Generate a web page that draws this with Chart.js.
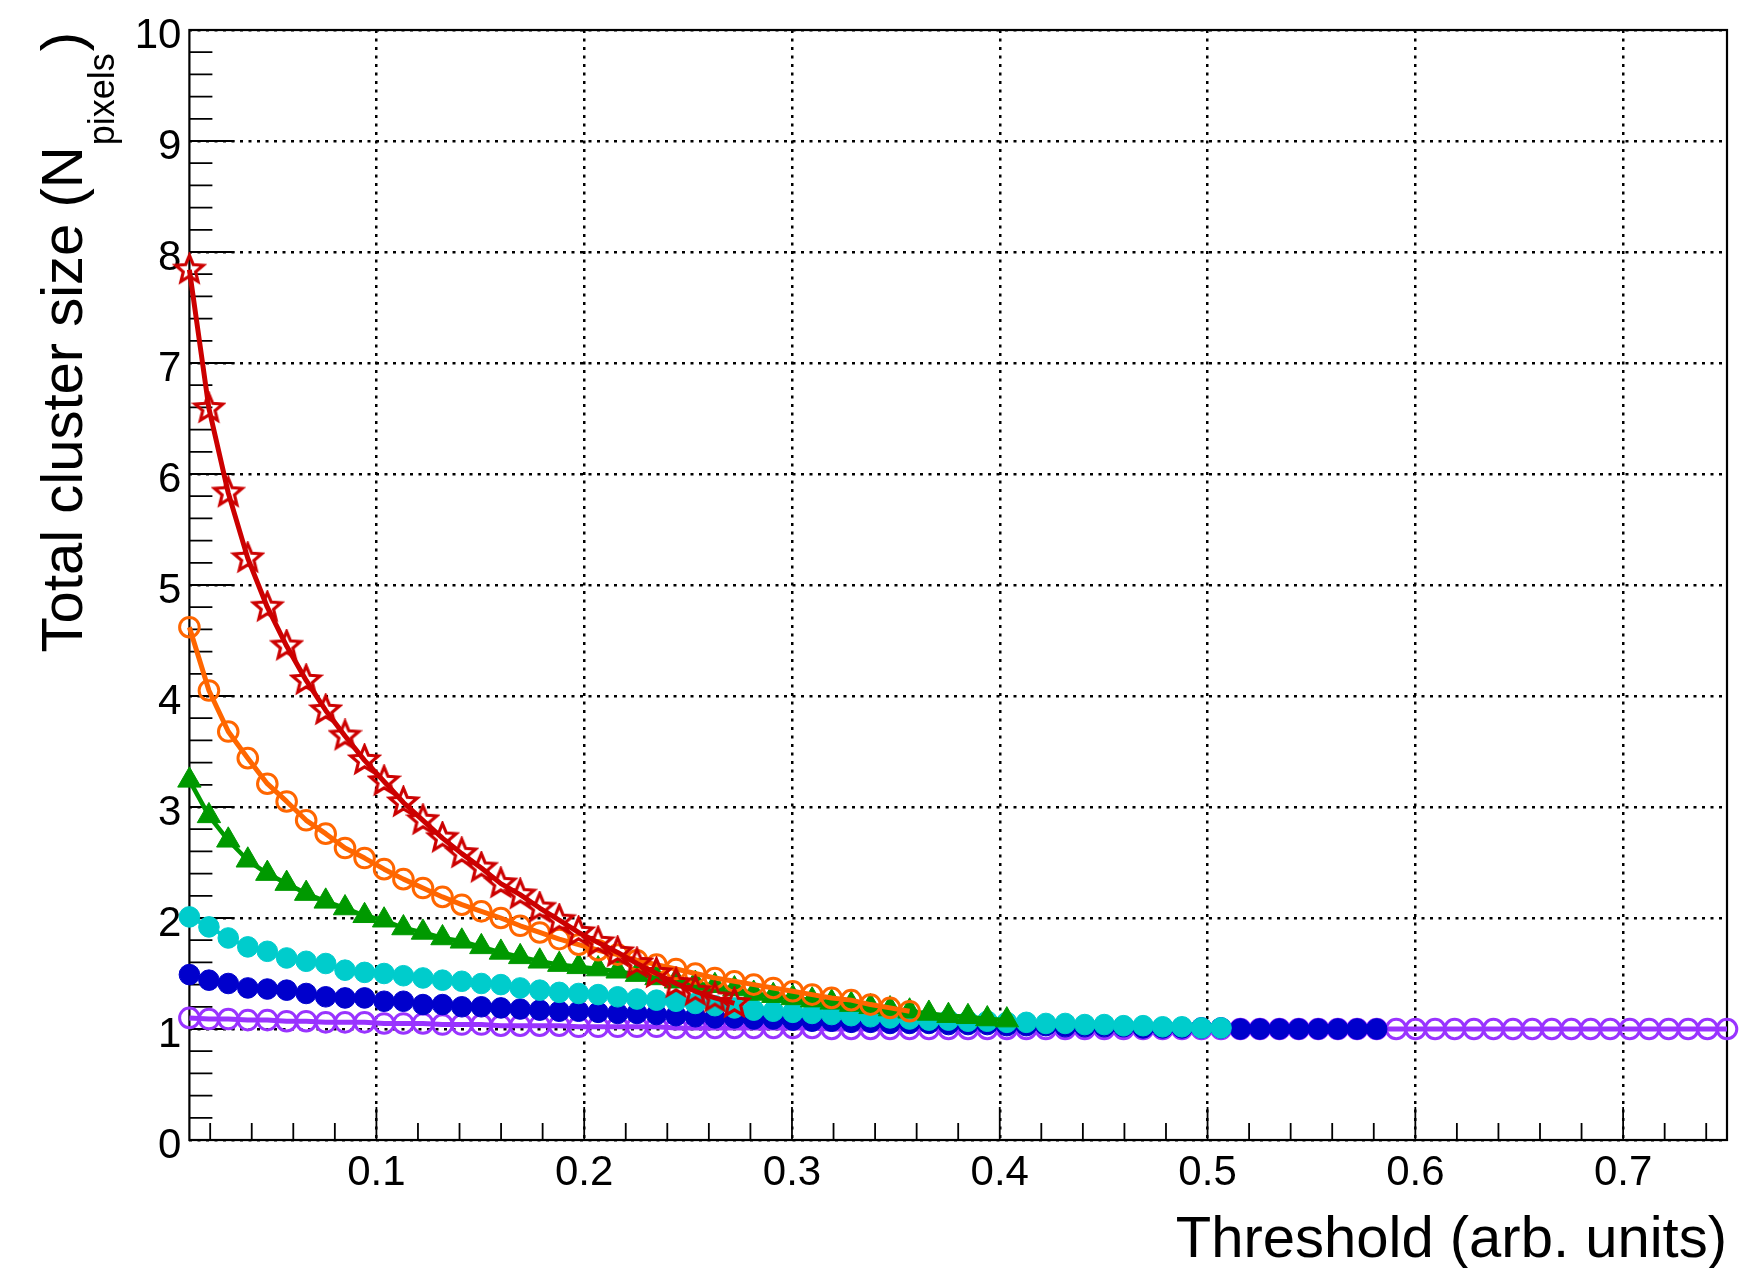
<!DOCTYPE html>
<html>
<head>
<meta charset="utf-8">
<title>Total cluster size vs threshold</title>
<script src="https://cdn.jsdelivr.net/npm/chart.js@4.4.1/dist/chart.umd.min.js"></script>
<style>
  html, body { margin: 0; padding: 0; background: #fff; }
  #wrap { width: 1747px; height: 1268px; }
</style>
</head>
<body>
<div id="wrap"><canvas id="clusterChart" width="1747" height="1268"></canvas></div>
<script>
// Threshold scan points (arb. units)
const thresholds = [
  0.0100, 0.0194, 0.0287, 0.0381, 0.0475, 0.0568, 0.0662, 0.0756, 0.0849, 0.0943,
  0.1037, 0.1130, 0.1224, 0.1318, 0.1411, 0.1505, 0.1599, 0.1692, 0.1786, 0.1880,
  0.1973, 0.2067, 0.2161, 0.2254, 0.2348, 0.2442, 0.2535, 0.2629, 0.2723, 0.2816,
  0.2910, 0.3004, 0.3097, 0.3191, 0.3285, 0.3378, 0.3472, 0.3566, 0.3659, 0.3753,
  0.3847, 0.3940, 0.4034, 0.4128, 0.4222, 0.4315, 0.4409, 0.4503, 0.4596, 0.4690,
  0.4784, 0.4877, 0.4971, 0.5065, 0.5158, 0.5252, 0.5346, 0.5439, 0.5533, 0.5627,
  0.5720, 0.5814, 0.5908, 0.6001, 0.6095, 0.6189, 0.6282, 0.6376, 0.6470, 0.6563,
  0.6657, 0.6751, 0.6844, 0.6938, 0.7032, 0.7125, 0.7219, 0.7313, 0.7406, 0.7500
];

// Total cluster size per curve, one value per threshold point
const sizeRed = [
  7.84, 6.59, 5.83, 5.24, 4.80, 4.45, 4.14, 3.87, 3.64, 3.42,
  3.23, 3.04, 2.88, 2.72, 2.58, 2.45, 2.31, 2.21, 2.09, 1.98,
  1.87, 1.78, 1.69, 1.59, 1.50, 1.41, 1.34, 1.28, 1.23
];
const sizeOrange = [
  4.62, 4.05, 3.68, 3.44, 3.21, 3.05, 2.88, 2.76, 2.63, 2.54,
  2.44, 2.35, 2.27, 2.19, 2.12, 2.06, 2.00, 1.93, 1.87, 1.81,
  1.76, 1.71, 1.67, 1.62, 1.58, 1.54, 1.50, 1.46, 1.43, 1.40,
  1.37, 1.34, 1.31, 1.28, 1.26, 1.22, 1.19, 1.16
];
const sizeGreen = [
  3.24, 2.92, 2.70, 2.52, 2.40, 2.31, 2.22, 2.15, 2.09, 2.02,
  1.98, 1.91, 1.87, 1.82, 1.79, 1.74, 1.69, 1.65, 1.61, 1.58,
  1.56, 1.54, 1.52, 1.49, 1.46, 1.43, 1.41, 1.39, 1.36, 1.32,
  1.30, 1.28, 1.26, 1.24, 1.22, 1.20, 1.18, 1.16, 1.14, 1.12,
  1.11, 1.09, 1.08
];
const sizeCyan = [
  2.01, 1.92, 1.82, 1.74, 1.70, 1.64, 1.61, 1.59, 1.53, 1.51,
  1.50, 1.48, 1.46, 1.44, 1.43, 1.41, 1.40, 1.37, 1.35, 1.33,
  1.32, 1.31, 1.29, 1.27, 1.26, 1.25, 1.23, 1.21, 1.19, 1.17,
  1.16, 1.15, 1.14, 1.13, 1.12, 1.11, 1.10, 1.09, 1.08, 1.08,
  1.07, 1.07, 1.06, 1.06, 1.05, 1.05, 1.04, 1.04, 1.03, 1.03,
  1.02, 1.02, 1.01, 1.01
];
const sizeBlue = [
  1.49, 1.44, 1.41, 1.37, 1.36, 1.35, 1.32, 1.29, 1.28, 1.28,
  1.25, 1.25, 1.22, 1.22, 1.20, 1.20, 1.19, 1.18, 1.17, 1.16,
  1.16, 1.15, 1.14, 1.14, 1.13, 1.12, 1.11, 1.10, 1.10, 1.09,
  1.09, 1.08, 1.07, 1.07, 1.06, 1.06, 1.05, 1.05, 1.05, 1.04,
  1.04, 1.04, 1.03, 1.03, 1.03, 1.02, 1.02, 1.02, 1.02, 1.01,
  1.01, 1.01, 1.01, 1.01, 1.00, 1.00, 1.00, 1.00, 1.00, 1.00,
  1.00, 1.00
];
const sizeViolet = [
  1.10, 1.09, 1.09, 1.08, 1.08, 1.07, 1.07, 1.06, 1.06, 1.06,
  1.05, 1.05, 1.05, 1.04, 1.04, 1.04, 1.03, 1.03, 1.03, 1.03,
  1.02, 1.02, 1.02, 1.02, 1.02, 1.01, 1.01, 1.01, 1.01, 1.01,
  1.01, 1.01, 1.01, 1.00, 1.00, 1.00, 1.00, 1.00, 1.00, 1.00,
  1.00, 1.00, 1.00, 1.00, 1.00, 1.00, 1.00, 1.00, 1.00, 1.00,
  1.00, 1.00, 1.00, 1.00, 1.00, 1.00, 1.00, 1.00, 1.00, 1.00,
  1.00, 1.00, 1.00, 1.00, 1.00, 1.00, 1.00, 1.00, 1.00, 1.00,
  1.00, 1.00, 1.00, 1.00, 1.00, 1.00, 1.00, 1.00, 1.00, 1.00
];

// Axis labels
const xTickValues = [0.1, 0.2, 0.3, 0.4, 0.5, 0.6, 0.7];
const yTickValues = [0, 1, 2, 3, 4, 5, 6, 7, 8, 9, 10];
const xTitle = 'Threshold (arb. units)';
const yTitle = ['Total cluster size (N', 'pixels', ')'];

document.addEventListener('DOMContentLoaded', () => {
    const FONT = "'Liberation Sans', Arial, Helvetica, sans-serif";

    const toPoints = values => values.map((v, i) => ({ x: thresholds[i], y: v }));

    // open five-point star marker
    function starMarker(color, outer, inner) {
        const size = Math.ceil(outer * 2 + 6);
        const c = document.createElement('canvas');
        c.width = c.height = size;
        const g = c.getContext('2d');
        g.translate(size / 2, size / 2);
        g.beginPath();
        for (let k = 0; k < 10; k++) {
            const r = k % 2 === 0 ? outer : inner;
            const ang = -Math.PI / 2 + k * Math.PI / 5;
            g.lineTo(r * Math.cos(ang), r * Math.sin(ang));
        }
        g.closePath();
        g.strokeStyle = color;
        g.lineWidth = 3.2;
        g.stroke();
        return c;
    }

    // frame, ticks, tick labels and axis titles
    const frameAxes = {
        id: 'frameAxes',
        beforeDatasetsDraw(chart) {
            const { ctx, chartArea: a, scales: { x, y } } = chart;
            ctx.save();
            ctx.strokeStyle = '#000';
            ctx.lineWidth = 1.8;
            ctx.beginPath();
            for (let k = 0; k <= 50; k++) {
                const py = y.getPixelForValue(k * 0.2);
                const len = k % 5 === 0 ? 45 : 23;
                ctx.moveTo(a.left, py);
                ctx.lineTo(a.left + len, py);
            }
            for (let k = 1; k <= 37; k++) {
                const px = x.getPixelForValue(k * 0.02);
                const len = k % 5 === 0 ? 33 : 17;
                ctx.moveTo(px, a.bottom);
                ctx.lineTo(px, a.bottom - len);
            }
            ctx.stroke();

            ctx.lineWidth = 2.2;
            ctx.strokeRect(a.left, a.top, a.right - a.left, a.bottom - a.top);

            ctx.fillStyle = '#000';
            ctx.font = `42px ${FONT}`;
            ctx.textBaseline = 'alphabetic';
            ctx.textAlign = 'right';
            yTickValues.forEach(v => ctx.fillText(String(v), a.left - 8, y.getPixelForValue(v) + 18));
            ctx.textAlign = 'center';
            xTickValues.forEach(v => ctx.fillText(v.toFixed(1), x.getPixelForValue(v), a.bottom + 45));

            ctx.font = `58px ${FONT}`;
            ctx.textAlign = 'right';
            ctx.fillText(xTitle, a.right, 1257);

            // rotated y title with subscript
            ctx.translate(82, 32);
            ctx.rotate(-Math.PI / 2);
            ctx.textAlign = 'left';
            ctx.font = `58px ${FONT}`;
            const wMain = ctx.measureText(yTitle[0]).width;
            const wClose = ctx.measureText(yTitle[2]).width;
            ctx.font = `36px ${FONT}`;
            const wSub = ctx.measureText(yTitle[1]).width;
            let cx = -(wMain + wSub + wClose + 3);
            ctx.font = `58px ${FONT}`;
            ctx.fillText(yTitle[0], cx, 0);
            cx += wMain + 1;
            ctx.font = `36px ${FONT}`;
            ctx.fillText(yTitle[1], cx, 32);
            cx += wSub + 2;
            ctx.font = `58px ${FONT}`;
            ctx.fillText(yTitle[2], cx, 0);
            ctx.restore();
        }
    };

    const openCircle = (color, data) => ({
        data: toPoints(data),
        borderColor: color, borderWidth: 5,
        pointStyle: 'circle', pointRadius: 9.8, pointBorderWidth: 3,
        pointBorderColor: color, pointBackgroundColor: 'rgba(0,0,0,0)',
        clip: false
    });
    const fullCircle = (color, data) => ({
        data: toPoints(data),
        borderColor: color, borderWidth: 4,
        pointStyle: 'circle', pointRadius: 10.3, pointBorderWidth: 1,
        pointBorderColor: color, pointBackgroundColor: color,
        clip: false
    });

    new Chart(document.getElementById('clusterChart'), {
        type: 'line',
        data: {
            datasets: [
                {
                    data: toPoints(sizeRed),
                    borderColor: '#cc0000', borderWidth: 5,
                    pointStyle: starMarker('#cc0000', 14.5, 6.5), pointRadius: 13,
                    clip: false
                },
                openCircle('#ff6600', sizeOrange),
                {
                    data: toPoints(sizeGreen),
                    borderColor: '#009900', borderWidth: 4.5,
                    pointStyle: 'triangle', pointRadius: 13.5, pointBorderWidth: 1,
                    pointBorderColor: '#009900', pointBackgroundColor: '#009900',
                    clip: false
                },
                fullCircle('#00cccc', sizeCyan),
                fullCircle('#0000cc', sizeBlue),
                openCircle('#9933ff', sizeViolet)
            ]
        },
        options: {
            responsive: false,
            animation: false,
            events: [],
            layout: { padding: { top: 30, right: 20, left: 0, bottom: 0 } },
            elements: { line: { tension: 0, borderJoinStyle: 'round' } },
            plugins: { legend: { display: false }, tooltip: { enabled: false } },
            scales: {
                x: {
                    type: 'linear', min: 0.01, max: 0.75,
                    afterBuildTicks: s => { s.ticks = xTickValues.map(v => ({ value: v })); },
                    afterFit: s => { s.height = 128; },
                    ticks: { display: false },
                    grid: { color: '#000', lineWidth: 2.5, drawTicks: false },
                    border: { display: false, dash: [3, 5.5] }
                },
                y: {
                    type: 'linear', min: 0, max: 10,
                    afterBuildTicks: s => { s.ticks = yTickValues.map(v => ({ value: v })); },
                    afterFit: s => { s.width = 189.4; },
                    ticks: { display: false },
                    grid: { color: '#000', lineWidth: 2.5, drawTicks: false },
                    border: { display: false, dash: [3, 5.5] }
                }
            }
        },
        plugins: [frameAxes]
    });
});
</script>
</body>
</html>
